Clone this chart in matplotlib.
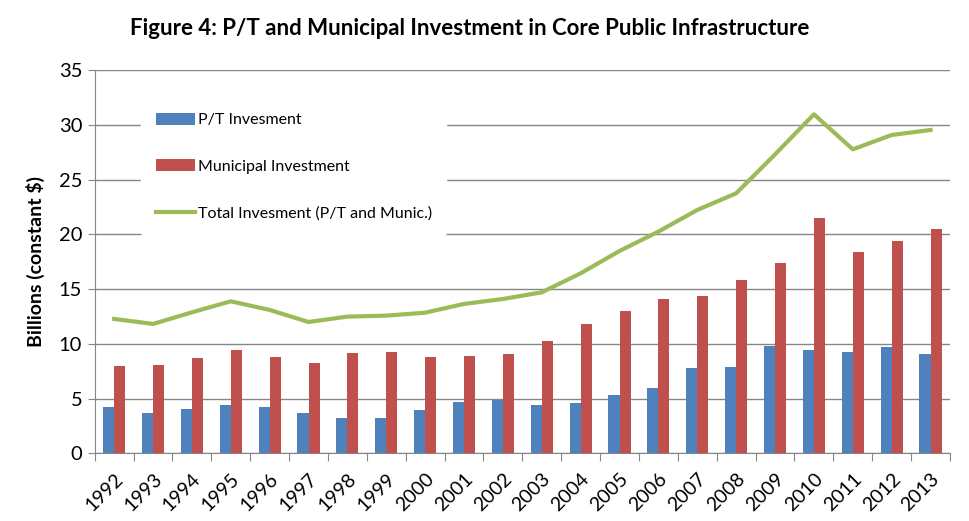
import matplotlib
matplotlib.use("Agg")
import matplotlib.pyplot as plt
import numpy as np

years = ["1992", "1993", "1994", "1995", "1996", "1997", "1998", "1999", "2000", "2001",
         "2002", "2003", "2004", "2005", "2006", "2007", "2008", "2009", "2010", "2011",
         "2012", "2013"]
pt_invest = [4.23, 3.69, 4.05, 4.42, 4.23, 3.69, 3.23, 3.23, 3.96, 4.69,
             4.87, 4.42, 4.60, 5.33, 5.97, 7.80, 7.89, 9.81, 9.44, 9.26,
             9.72, 9.08]
muni_invest = [7.98, 8.07, 8.71, 9.44, 8.80, 8.25, 9.17, 9.26, 8.80, 8.89,
               9.08, 10.26, 11.82, 13.01, 14.10, 14.38, 15.84, 17.39, 21.50, 18.40,
               19.40, 20.50]
total_invest = [12.28, 11.82, 12.88, 13.89, 13.10, 12.00, 12.49, 12.58, 12.85, 13.65,
                14.10, 14.71, 16.45, 18.49, 20.26, 22.24, 23.76, 27.32, 30.98, 27.78,
                29.09, 29.55]

plt.rcParams['font.family'] = ['Lato', 'DejaVu Sans']

fig = plt.figure(figsize=(9.69, 5.21), dpi=100)
ax = fig.add_axes([0.0977, 0.13, 0.8827, 0.735])

x = np.arange(len(years))
w = 0.285
b1 = ax.bar(x - w / 2, pt_invest, width=w, color="#4F81BD", label="P/T Invesment", zorder=3)
b2 = ax.bar(x + w / 2, muni_invest, width=w, color="#C0504D", label="Municipal Investment", zorder=3)
l1, = ax.plot(x, total_invest, color="#9BBB59", lw=3, label="Total Invesment (P/T and Munic.)", zorder=4)

ax.set_xlim(-0.5, len(years) - 0.5)
ax.set_ylim(0, 35)
ax.set_yticks(np.arange(0, 36, 5))
ax.tick_params(axis='y', labelsize=14.5, length=5, color="#868686", pad=4)
ax.yaxis.grid(True, color="#868686", lw=1, zorder=0)
ax.set_axisbelow(True)

ax.set_xticks(np.arange(-0.5, len(years), 1.0), minor=False)
ax.set_xticklabels([])
ax.set_xticks(x, minor=True)
ax.set_xticklabels(years, minor=True, rotation=45, ha='right', va='top', fontsize=14,
                   rotation_mode='anchor')
ax.tick_params(axis='x', which='major', length=6, color="#868686")
ax.tick_params(axis='x', which='minor', length=0, pad=12)

for s in ['top', 'right']:
    ax.spines[s].set_visible(False)
for s in ['left', 'bottom']:
    ax.spines[s].set_color("#868686")

ax.set_ylabel("Billions (constant $)", fontsize=14, fontweight='bold', labelpad=10)

leg = ax.legend([b1, b2, l1], [b1.get_label(), b2.get_label(), l1.get_label()],
                loc='upper left', bbox_to_anchor=(0.045, 0.948), frameon=True,
                fontsize=11.5, labelspacing=2.0, handlelength=2.5, handleheight=0.8,
                handletextpad=0.15, borderpad=0.9)
leg.get_frame().set_edgecolor('white')
leg.get_frame().set_facecolor('white')
leg.get_frame().set_alpha(1)
leg.set_zorder(5)

fig.text(0.485, 0.945, "Figure 4: P/T and Municipal Investment in Core Public Infrastructure",
         ha='center', va='center', fontsize=16, fontweight='bold')

fig.savefig("out.png", dpi=100)
